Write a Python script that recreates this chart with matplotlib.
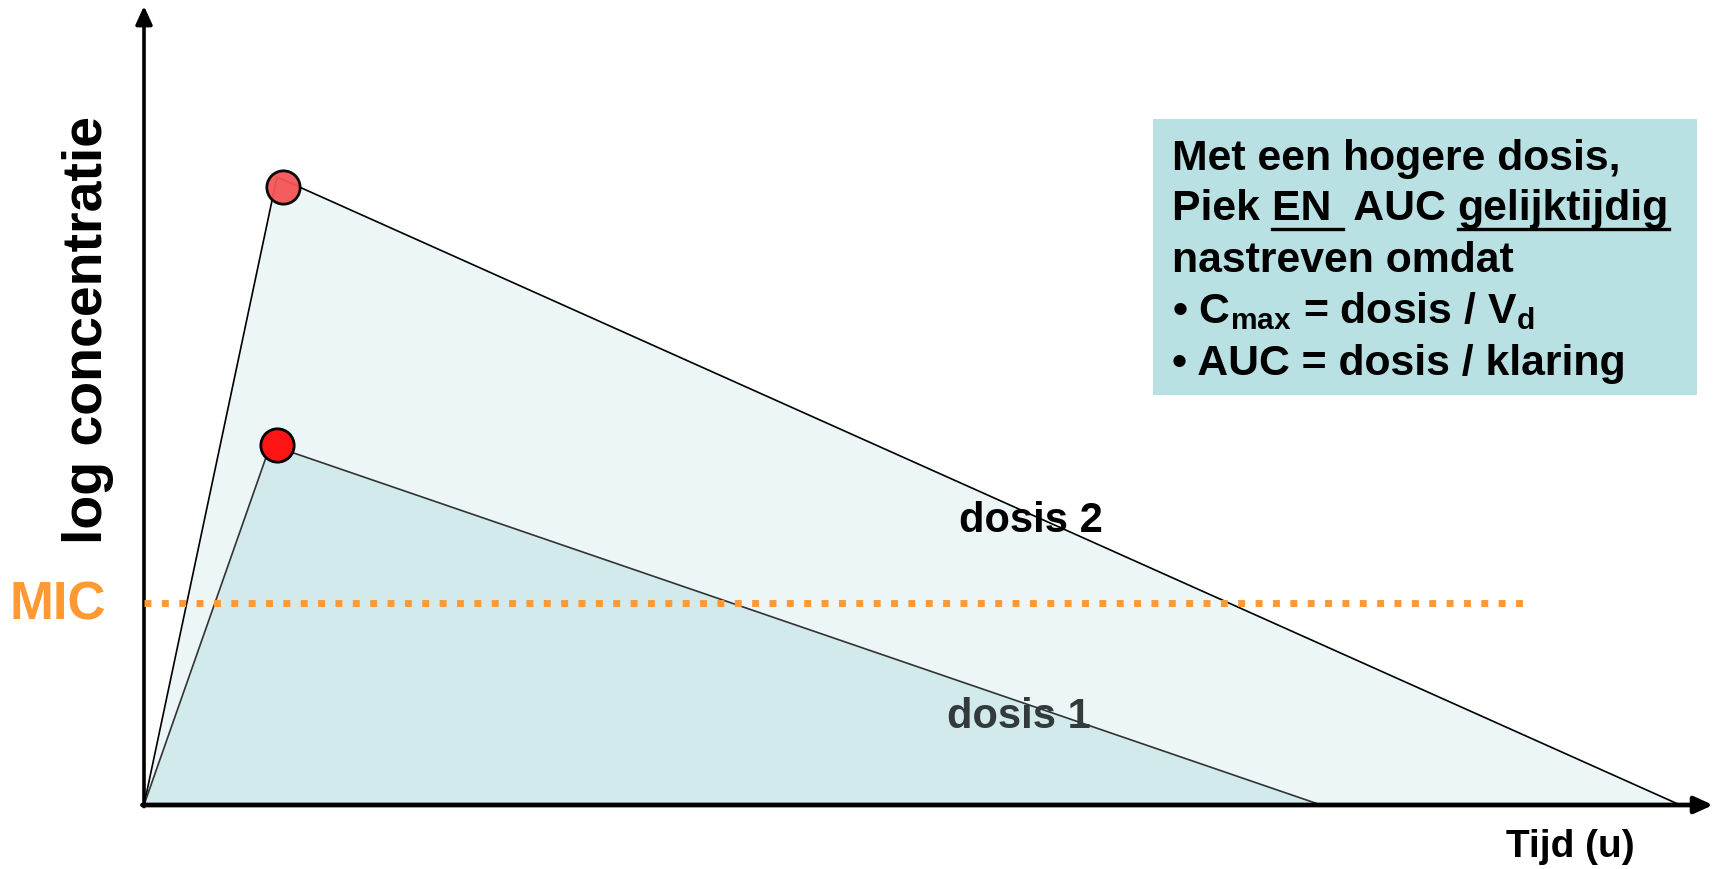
import matplotlib.pyplot as plt
from matplotlib.patches import Rectangle

plt.rcParams['font.family'] = ['Liberation Sans', 'DejaVu Sans']
plt.rcParams['font.weight'] = 'bold'
plt.rcParams['mathtext.fontset'] = 'custom'
plt.rcParams['mathtext.rm'] = 'Liberation Sans:bold'
plt.rcParams['mathtext.it'] = 'Liberation Sans:bold'
plt.rcParams['mathtext.bf'] = 'Liberation Sans:bold'

# schematic curves: time (u) vs log concentration (arbitrary units)
dose1_t = [0, 0.95, 8.85]
dose1_c = [0, 4.5, 0]
dose2_t = [0, 1.0, 11.55]
dose2_c = [0, 7.85, 0]
peak_t = [1.0, 1.045]
peak_c = [4.5, 7.72]
mic_level = 2.52
mic_end = 10.4
labels = ['dosis 1', 'dosis 2']
label_t = [6.58, 6.67]
label_c = [1.1, 3.55]

fig = plt.figure(figsize=(17.17, 8.69), dpi=100)
W, H = 1717, 869
ax = fig.add_axes([144 / W, 64 / H, (W - 144) / W, 800 / H])
ax.set_xlim(0, (W - 144) / 133)
ax.set_ylim(0, 10)
ax.axis('off')

ax.fill(dose2_t, dose2_c, color='#edf6f7', zorder=1)
ax.fill(dose1_t, dose1_c, color='#d3eaec', zorder=2)
ax.plot(dose2_t, dose2_c, color='black', lw=1.2, zorder=3)
ax.plot(dose1_t, dose1_c, color='#333333', lw=1.2, zorder=3)
ax.plot(peak_t[0], peak_c[0], 'o', ms=24, mfc='#ff1414', mec='black', mew=2, zorder=5)
ax.plot(peak_t[1], peak_c[1], 'o', ms=24, mfc='#f55555', mec='black', mew=2, alpha=0.95, zorder=5)

ax.plot([0, mic_end], [mic_level, mic_level], color='#ff9933', lw=5,
        linestyle=(0, (1, 1.5)), zorder=4)

ax.text(label_t[1], label_c[1], labels[1], fontsize=30, color='black',
        ha='center', va='center', zorder=6)
ax.text(label_t[0], label_c[0], labels[0], fontsize=30, color='#333a3b',
        ha='center', va='center', zorder=6)

# axes with arrow heads
ax.annotate('', xy=(0, 0.9988), xytext=(0, -0.002), xycoords='axes fraction',
            arrowprops=dict(arrowstyle='-|>,head_length=1.1,head_width=0.5', lw=2.6,
                            color='black', shrinkA=0, shrinkB=0))
ax.annotate('', xy=(0.9975, 0), xytext=(-0.001, 0), xycoords='axes fraction',
            arrowprops=dict(arrowstyle='-|>,head_length=1.1,head_width=0.5', lw=3.4,
                            color='black', shrinkA=0, shrinkB=0))

fig.text(88 / W, 1 - 330 / H, 'log concentratie', fontsize=40, rotation=90,
         ha='center', va='center')
fig.text(58 / W, 1 - 605 / H, 'MIC', fontsize=38, color='#ff9933',
         ha='center', va='center')
fig.text(1570 / W, 1 - 857 / H, 'Tijd (u)', fontsize=28, ha='center', va='baseline')

# info box
fig.patches.append(Rectangle((1153 / W, 1 - 395 / H), (1697 - 1153) / W, (395 - 119) / H,
                             transform=fig.transFigure, facecolor='#b9e0e3',
                             edgecolor='none', zorder=0))
x0 = 1172
fs = 30.8
fig.text(x0 / W, 1 - 170 / H, 'Met een hogere dosis,', fontsize=fs, va='baseline')
fig.text(x0 / W, 1 - 272 / H, 'nastreven omdat', fontsize=fs, va='baseline')
fig.text(x0 / W, 1 - 323 / H, r'• C$_{max}$ = dosis / V$_{d}$', fontsize=fs, va='baseline')
fig.text(x0 / W, 1 - 375 / H, '• AUC = dosis / klaring', fontsize=fs, va='baseline')

# second line with underlined parts
parts = ['Piek ', 'EN ', ' AUC ', 'gelijktijdig']
underline = [False, True, False, True]
renderer = fig.canvas.get_renderer()
xpos = x0
for p, u in zip(parts, underline):
    t = fig.text(xpos / W, 1 - 220 / H, p, fontsize=fs, va='baseline')
    w = t.get_window_extent(renderer).width
    if p.endswith(' '):
        probe = fig.text(0, 0, p.rstrip() + '|', fontsize=fs)
        bar = fig.text(0, 0, '|', fontsize=fs)
        sp = fig.text(0, 0, '| |', fontsize=fs)
        sw = sp.get_window_extent(renderer).width - 2 * bar.get_window_extent(renderer).width
        w = (probe.get_window_extent(renderer).width - bar.get_window_extent(renderer).width
             + sw * (len(p) - len(p.rstrip())))
        probe.remove(); bar.remove(); sp.remove()
    if u:
        fig.add_artist(plt.Line2D([xpos / W, (xpos + w) / W], [1 - 229 / H, 1 - 229 / H],
                                  transform=fig.transFigure, color='black', lw=2.4))
    xpos += w

fig.savefig('out.png', dpi=100)
